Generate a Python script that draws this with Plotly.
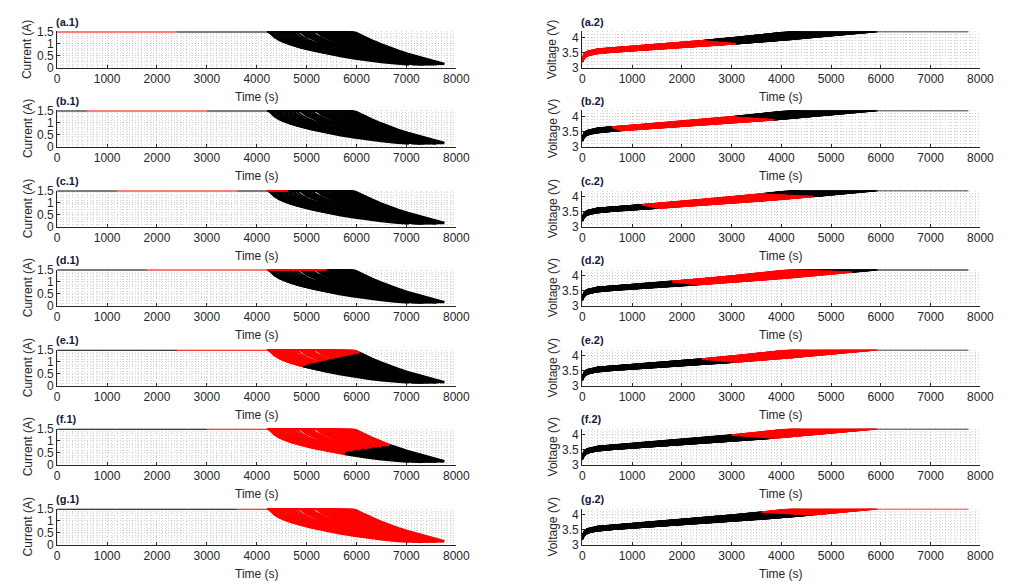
import numpy as np
import plotly.graph_objects as go

# ---------------- data ----------------
# per-curve parameters (one charging curve per entry)
T_CV = [4220, 4240, 4260, 4280, 4330, 4350, 4380, 4420, 4460, 4510,
        4560, 4610, 4660, 4720, 4780, 4860, 4900, 4940, 4990, 5040,
        5090, 5180, 5220, 5260, 5310, 5360, 5410, 5460, 5510, 5560,
        5610, 5660, 5710, 5760, 5800, 5840, 5880, 5900, 5920, 5940]
T_END = [7760, 6430, 7050, 7150, 7300, 7000, 7200, 7350, 7100, 7250,
         7400, 7300, 7450, 7200, 7350, 7500, 7400, 7550, 7300, 7450,
         7600, 7500, 7400, 7550, 7650, 7500, 7600, 7700, 7550, 7650,
         7700, 7600, 7700, 7720, 7680, 7740, 7700, 7750, 7730, 7760]
I_END = [0.15, 0.33, 0.12, 0.14, 0.11, 0.16, 0.13, 0.12, 0.17, 0.14,
         0.12, 0.15, 0.13, 0.16, 0.14, 0.12, 0.15, 0.13, 0.17, 0.14,
         0.12, 0.15, 0.16, 0.13, 0.14, 0.15, 0.12, 0.14, 0.16, 0.13,
         0.15, 0.14, 0.13, 0.15, 0.16, 0.14, 0.15, 0.13, 0.15, 0.16]
SHAPE_W = [1.0, 1.0, 0.95, 0.95, 0.9, 0.9, 0.88, 0.85, 0.83, 0.8,
           0.78, 0.75, 0.72, 0.7, 0.66, 0.62, 0.6, 0.58, 0.55, 0.52,
           0.5, 0.45, 0.42, 0.4, 0.37, 0.34, 0.31, 0.28, 0.25, 0.22,
           0.2, 0.17, 0.14, 0.11, 0.09, 0.07, 0.05, 0.03, 0.02, 0.0]
V_OFF = [0.0, 0.001, 0.003, 0.004, 0.008, 0.009, 0.011, 0.014, 0.017, 0.020,
         0.024, 0.027, 0.031, 0.035, 0.039, 0.045, 0.047, 0.050, 0.054, 0.057,
         0.061, 0.067, 0.070, 0.073, 0.076, 0.080, 0.083, 0.087, 0.090, 0.093,
         0.097, 0.100, 0.104, 0.107, 0.110, 0.113, 0.116, 0.117, 0.119, 0.120]
# nominal capacity of each curve (A*s) used to place the highlighted windows
CAP = [8490, 8518, 8547, 8575, 8647, 8676, 8718, 8776, 8833, 8904,
       8976, 9047, 9119, 9205, 9290, 9405, 9462, 9519, 9591, 9662,
       9734, 9862, 9920, 9977, 10048, 10120, 10191, 10263, 10334, 10406,
       10477, 10549, 10620, 10692, 10749, 10806, 10863, 10892, 10921, 10949]

I_CC = 1.5
V_CV = 4.2

# constant-current voltage profile (reference curve) and offset taper
TAU_KNOTS = [0, 25, 50, 100, 200, 300, 450, 600, 900, 1200, 1500, 1800,
             2100, 2400, 2700, 3000, 3300, 3600, 3900, 4200]
V_REF = [3.30, 3.42, 3.48, 3.53, 3.58, 3.61, 3.63, 3.65, 3.69, 3.73, 3.77,
         3.81, 3.85, 3.89, 3.94, 3.99, 4.04, 4.09, 4.145, 4.2]
V_TAPER = [1, 1, 1, 1, 0.98, 0.96, 0.93, 0.9, 0.85, 0.8, 0.75, 0.7,
           0.62, 0.55, 0.47, 0.4, 0.3, 0.2, 0.1, 0]

# constant-voltage current decay profiles (fraction remaining)
U_KNOTS = [0, 0.05, 0.1, 0.15, 0.2, 0.3, 0.4, 0.5, 0.6, 0.7, 0.8, 0.9, 1.0]
G_EARLY = [1, 0.80, 0.68, 0.60, 0.53, 0.42, 0.33, 0.25, 0.18, 0.12, 0.07, 0.03, 0]
G_LATE = [1, 0.93, 0.86, 0.79, 0.73, 0.61, 0.50, 0.40, 0.31, 0.23, 0.15, 0.075, 0]

# highlighted windows (fraction of nominal capacity) for panels a..g
PANELS = ['a', 'b', 'c', 'd', 'e', 'f', 'g']
WIN_START = [0.0, 0.106, 0.212, 0.318, 0.424, 0.530, 0.636]
WIN_END = [0.424, 0.530, 0.636, 0.742, 0.830, 0.890, 1.5]

X_TICKS = [0, 1000, 2000, 3000, 4000, 5000, 6000, 7000, 8000]
I_TICKS = [0, 0.5, 1, 1.5]
V_TICKS = [3, 3.5, 4]

# ---------------- build curves ----------------
def build_curve(i):
    tcv, tend = T_CV[i], T_END[i]
    u = np.array(U_KNOTS, float)
    g = SHAPE_W[i] * np.array(G_EARLY) + (1 - SHAPE_W[i]) * np.array(G_LATE)
    t_i = np.concatenate([[0.0], tcv + u * (tend - tcv)])
    i_i = np.concatenate([[I_CC], I_END[i] + (I_CC - I_END[i]) * g])
    tau = np.array(TAU_KNOTS, float)
    t_v = np.concatenate([tau * tcv / tau[-1], [tend]])
    v_v = np.concatenate([np.array(V_REF) - V_OFF[i] * np.array(V_TAPER), [V_CV]])
    q = np.concatenate([[0.0], np.cumsum(0.5 * (i_i[1:] + i_i[:-1]) * np.diff(t_i))])
    frac = q / CAP[i]
    return t_i, i_i, t_v, v_v, frac


def split(x, y, a, b):
    """Split a polyline into the part inside [a, b] (red) and the rest (black)."""
    x = np.asarray(x, float)
    y = np.asarray(y, float)
    a = float(np.clip(a, x[0], x[-1]))
    b = float(np.clip(b, x[0], x[-1]))
    ya, yb = np.interp([a, b], x, y)
    red = None
    if b > a:
        inside = (x > a) & (x < b)
        red = (np.concatenate([[a], x[inside], [b]]),
               np.concatenate([[ya], y[inside], [yb]]))
    blacks = []
    m = x < a
    if m.any():
        blacks.append((np.concatenate([x[m], [a]]), np.concatenate([y[m], [ya]])))
    m = x > b
    if m.any():
        blacks.append((np.concatenate([[b], x[m]]), np.concatenate([[yb], y[m]])))
    return red, blacks


def join(segs):
    xs, ys = [], []
    for sx, sy in segs:
        xs += [float(v) for v in sx] + [None]
        ys += [float(v) for v in sy] + [None]
    return xs, ys


curves = [build_curve(i) for i in range(len(T_CV))]

# ---------------- layout ----------------
W, H = 1019, 588
COLS = [(55, 461), (589, 994)]
TOPS = [25, 106, 188, 269, 351, 432, 514]
PH = 37
TXT = '#262626'
FONT = 'Liberation Sans, Arial, sans-serif'
LW = [2.0, 1.6]   # current panels, voltage panels

fig = go.Figure()
layout = dict(width=W, height=H, margin=dict(l=0, r=0, t=0, b=0),
              paper_bgcolor='white', plot_bgcolor='white', showlegend=False,
              hovermode=False)
annotations = []


def px(xp):
    return xp / W


def py(yp):
    return 1 - yp / H


axis_common = dict(showline=True, linecolor=TXT, linewidth=1, ticks='inside',
                   ticklen=3, tickwidth=1, tickcolor=TXT,
                   tickfont=dict(family=FONT, size=12, color=TXT),
                   showgrid=True, gridcolor='#c8c8c8', griddash='1px,2px', gridwidth=1,
                   zeroline=False, fixedrange=True, exponentformat='none')
minor_common = dict(showgrid=True, gridcolor='#d6d6d6', griddash='1px,2px', gridwidth=1)

for r, letter in enumerate(PANELS):
    ws, we = WIN_START[r], WIN_END[r]
    top = TOPS[r]
    bot = top + PH
    for c in range(2):
        k = r * 2 + c + 1
        xa = 'x' if k == 1 else f'x{k}'
        ya = 'y' if k == 1 else f'y{k}'
        x0, x1 = COLS[c]
        blk, red = [], []
        for idx, (t_i, i_i, t_v, v_v, frac) in enumerate(curves):
            ta, tb = np.interp([ws, we], frac, t_i)
            if c == 0:
                x, y = t_i.copy(), i_i
                if idx > 0:
                    # the shared constant-current plateau is drawn by the first curve
                    x[0] = T_CV[0]
            else:
                x, y = t_v, v_v
                if idx > 0:
                    # the shared constant-voltage plateau is drawn by the first curve
                    x, y = t_v[:-1], v_v[:-1]
            rs, bs = split(x, y, ta, tb)
            if rs is not None:
                red.append(rs)
            blk += bs
        for segs, col in ((blk, '#000000'), (red, '#ff0000')):
            if not segs:
                continue
            xs, ys = join(segs)
            fig.add_trace(go.Scatter(x=xs, y=ys, mode='lines', xaxis=xa, yaxis=ya,
                                     line=dict(color=col, width=LW[c]), hoverinfo='skip'))

        xkey = 'xaxis' if k == 1 else f'xaxis{k}'
        ykey = 'yaxis' if k == 1 else f'yaxis{k}'
        layout[xkey] = dict(axis_common, domain=[px(x0), px(x1)], anchor=ya,
                            range=[-2, 8000], tickmode='array', tickvals=X_TICKS,
                            minor=dict(minor_common, tickmode='linear', tick0=0, dtick=100))
        if c == 0:
            yr, yt, m0, ylab = [0, 1.5], I_TICKS, 0, 'Current (A)'
        else:
            yr, yt, m0, ylab = [3, 4.2], V_TICKS, 3, 'Voltage (V)'
        layout[ykey] = dict(axis_common, domain=[py(bot), py(top)], anchor=xa,
                            range=yr, tickmode='array', tickvals=yt,
                            minor=dict(minor_common, tickmode='linear', tick0=m0, dtick=0.1))
        annotations.append(dict(x=px(x0 - 3), y=py(top - 10), xref='paper', yref='paper',
                                text=f'<b>({letter}.{c + 1})</b>', showarrow=False,
                                xanchor='left', yanchor='middle',
                                font=dict(family=FONT, size=11, color='#14183a')))
        annotations.append(dict(x=px((x0 + x1) / 2), y=py(bot + 30), xref='paper', yref='paper',
                                text='Time (s)', showarrow=False, xanchor='center',
                                yanchor='middle', font=dict(family=FONT, size=12, color=TXT)))
        annotations.append(dict(x=px(x0 - 30), y=py((top + bot) / 2), xref='paper', yref='paper',
                                text=ylab, showarrow=False, textangle=-90, xanchor='center',
                                yanchor='middle', font=dict(family=FONT, size=12, color=TXT)))

layout['annotations'] = annotations
fig.update_layout(**layout)
fig.write_html('out.html')
